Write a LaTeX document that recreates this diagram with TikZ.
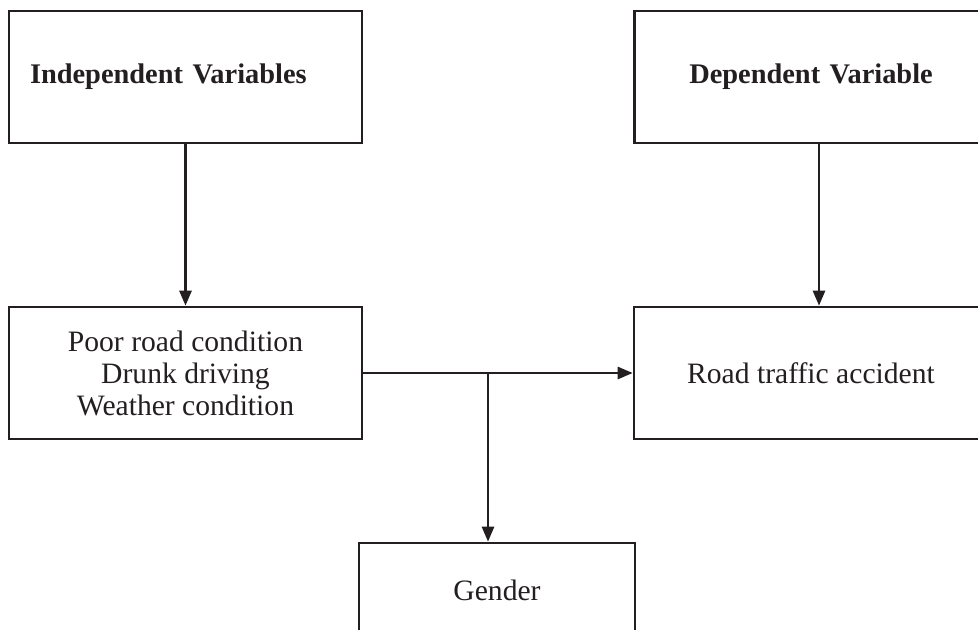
\documentclass[tikz,border=0pt]{standalone}
\usepackage{fontspec}
\setmainfont{Liberation Serif}
\usetikzlibrary{arrows.meta}
\definecolor{ink}{RGB}{35,31,32}
\begin{document}
\begin{tikzpicture}[x=0.5pt,y=-0.5pt,
    box/.style={draw=ink, line width=1.3pt, text=ink, minimum height=66pt, inner xsep=10.5pt,
      font=\fontsize{14.8}{16}\selectfont},
    head/.style={box, text width=155.5pt, font=\fontsize{14.2}{16}\selectfont\bfseries},
    ar/.style={draw=ink, line width=1.3pt, -{Triangle[length=7.5pt,width=6pt]}}]
  \useasboundingbox (0,0) rectangle (978,630);
  \clip (0,0) rectangle (978,630);
  \draw[] node[head, align=left] (iv) at (185.5,77) {Independent Variables}
    node[head, align=center] (dv) at (811,77) {Dependent Variable}
    node[box, minimum width=176.5pt, align=center] (pr) at (185.5,373)
      {Poor road condition\\Drunk driving\\Weather condition}
    node[box, minimum width=177pt] (ra) at (811,373) {Road traffic accident}
    node[box, minimum width=138pt, minimum height=47pt] (gd) at (497,590) {Gender};
  \coordinate (j) at (488,373);
  \path (iv) edge[ar] (pr)
    ([xshift=4pt]dv.south) edge[ar] ([xshift=4pt]ra.north)
    (pr) edge[ar] (ra)
    (j) edge[ar] (j |- gd.north);
\end{tikzpicture}
\end{document}
